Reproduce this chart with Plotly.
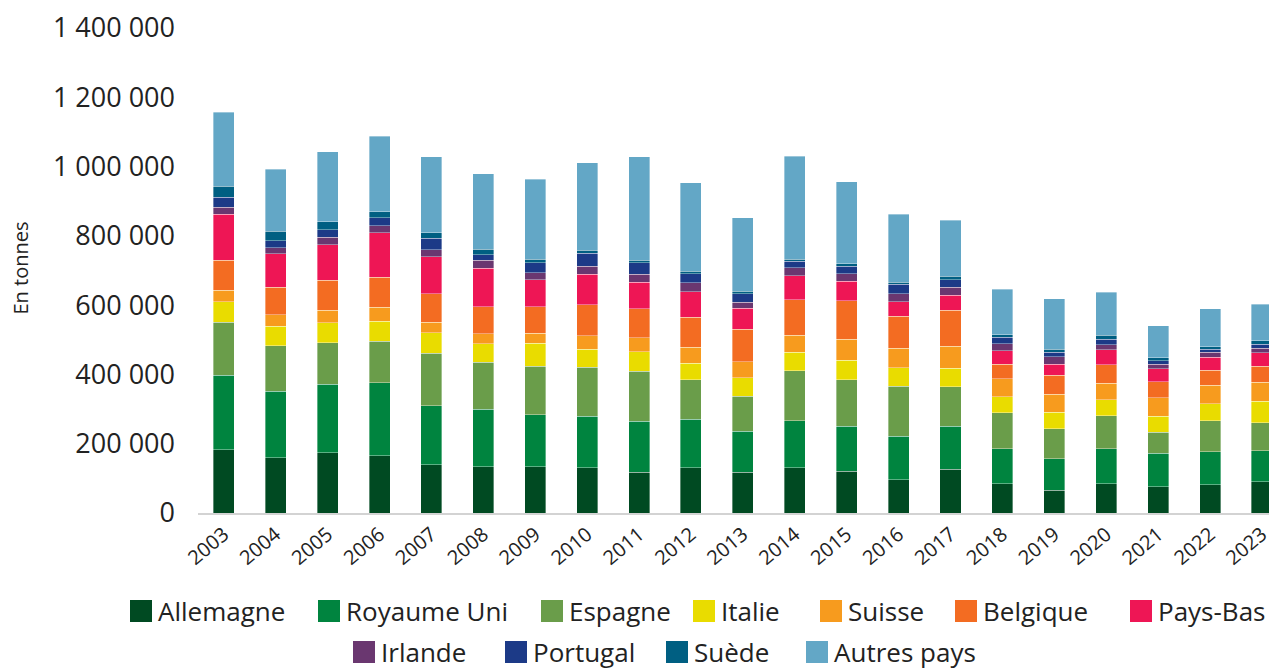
import plotly.graph_objects as go

years = [str(y) for y in range(2003, 2024)]

allemagne = [183, 159, 174, 165, 139, 133, 133, 131, 118, 131, 118, 130, 120, 96, 126, 84, 66, 84, 76, 82, 90]
royaume_uni = [215, 193, 198, 211, 170, 166, 150, 149, 147, 139, 118, 136, 131, 126, 124, 101, 90, 101, 96, 95, 90]
espagne = [153, 131, 120, 120, 152, 136, 141, 141, 144, 114, 101, 144, 133, 144, 114, 104, 87, 96, 61, 90, 81]
italie = [59, 56, 57, 58, 60, 53, 66, 52, 57, 48, 54, 54, 57, 54, 54, 46, 48, 46, 46, 49, 62]
suisse = [33, 33, 36, 40, 30, 29, 29, 38, 40, 47, 46, 49, 61, 55, 63, 53, 52, 47, 54, 53, 54]
belgique = [86, 79, 87, 87, 82, 78, 76, 90, 83, 86, 94, 103, 110, 93, 104, 41, 54, 54, 46, 43, 47]
pays_bas = [134, 97, 103, 128, 107, 112, 79, 88, 77, 74, 60, 69, 57, 42, 43, 40, 33, 43, 37, 38, 38]
irlande = [20, 18, 21, 20, 20, 23, 20, 23, 23, 25, 18, 23, 22, 23, 23, 19, 21, 15, 13, 14, 14]
portugal = [29, 20, 22, 24, 33, 16, 28, 38, 33, 27, 24, 19, 21, 28, 23, 19, 13, 15, 10, 8, 11]
suede = [31, 27, 23, 16, 16, 16, 11, 9, 8, 7, 7, 6, 8, 5, 10, 8, 9, 12, 9, 8, 10]
autres = [214, 179, 202, 218, 219, 218, 230, 252, 298, 256, 213, 297, 236, 196, 161, 131, 146, 124, 92, 109, 105]

series_names = ["Allemagne", "Royaume Uni", "Espagne", "Italie", "Suisse", "Belgique",
                "Pays-Bas", "Irlande", "Portugal", "Suède", "Autres pays"]
series_values = [allemagne, royaume_uni, espagne, italie, suisse, belgique,
                 pays_bas, irlande, portugal, suede, autres]
colors = ["#004A22", "#00843F", "#6A9D4A", "#E9DC00", "#F79B1E", "#F36C22",
          "#EE1655", "#6A3770", "#1C3A87", "#005F82", "#63A7C6"]

tick_vals = [0, 200000, 400000, 600000, 800000, 1000000, 1200000, 1400000]
tick_text = ["0", "200 000", "400 000", "600 000", "800 000", "1 000 000", "1 200 000", "1 400 000"]

# The page body adds an 8 px offset; the figure is sized/positioned to compensate.
OFF = 8
W, H = 1277 - OFF, 670 - OFF
ML, MR, MT, MB = 198 - OFF, 0, 28 - OFF, 157
PW, PH = W - ML - MR, H - MT - MB


def px_x(px):
    # px given in screenshot coordinates
    return (px - OFF - ML) / PW


def px_y(py):
    return (H - MB - (py - OFF)) / PH


fig = go.Figure()
for name, vals, col in zip(series_names, series_values, colors):
    fig.add_trace(go.Bar(
        x=years, y=[v * 1000 for v in vals], name=name, showlegend=False,
        marker=dict(color=col, line=dict(color="rgba(255,255,255,0.45)", width=0.8)),
    ))

# Manual legend (large square swatches)
legend_pos = [(130, 611), (318, 611), (541, 611), (693, 611), (820, 611), (955, 611), (1130, 611),
              (353, 652), (505, 652), (666, 652), (806, 652)]
shapes = []
annotations = []
sq = 22
for (lx, ly), name, col in zip(legend_pos, series_names, colors):
    shapes.append(dict(type="rect", xref="paper", yref="paper",
                       x0=px_x(lx), x1=px_x(lx + sq), y0=px_y(ly + sq / 2), y1=px_y(ly - sq / 2),
                       fillcolor=col, line=dict(width=0)))
    annotations.append(dict(text=name, xref="paper", yref="paper", x=px_x(lx + sq + 5), y=px_y(ly),
                            xanchor="left", yanchor="middle", showarrow=False, borderpad=0,
                            font=dict(size=26, color="#222222", family="Open Sans, sans-serif")))

annotations.append(dict(text="En tonnes", xref="paper", yref="paper", x=px_x(19.5), y=px_y(268),
                        xanchor="center", yanchor="middle", textangle=-90, showarrow=False,
                        font=dict(size=20, color="#222222", family="Open Sans, sans-serif")))

fig.update_layout(
    barmode="stack",
    bargap=0.595,
    width=W, height=H,
    margin=dict(l=ML, r=MR, t=MT, b=MB),
    paper_bgcolor="white", plot_bgcolor="white",
    font=dict(family="Open Sans, sans-serif", color="#222222"),
    showlegend=False,
    shapes=shapes,
    annotations=annotations,
    xaxis=dict(
        type="category", range=[-0.497, 20.29], automargin=False,
        tickangle=-40, tickfont=dict(size=20, color="#222222"),
        showline=True, linecolor="#d3d3d3", linewidth=2,
        ticks="", showgrid=False,
    ),
    yaxis=dict(
        range=[0, 1400000], tickvals=tick_vals, ticktext=tick_text, automargin=False,
        tickfont=dict(size=27, color="#222222"), showgrid=False,
        zeroline=False, ticks="", ticklabelstandoff=22,
    ),
)

fig.write_html("out.html")
